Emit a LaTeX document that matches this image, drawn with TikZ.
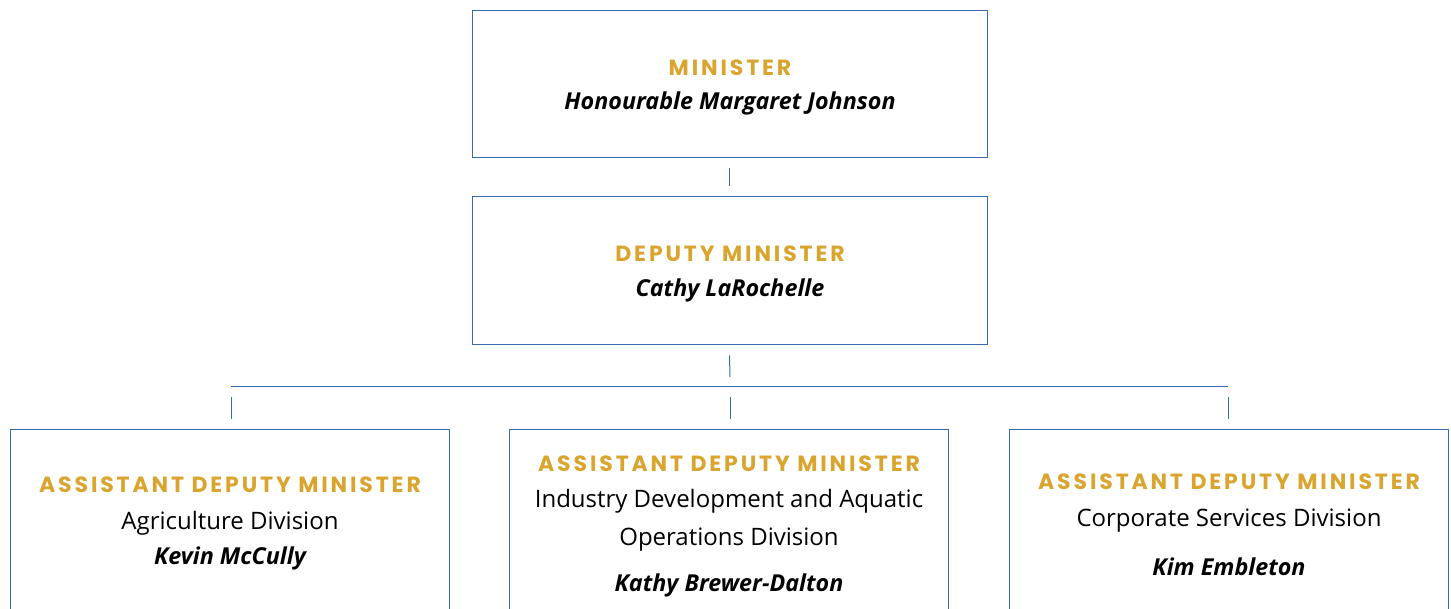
\documentclass[tikz,border=0pt]{standalone}
\usepackage{fontspec}
\setmainfont{Open Sans}
\newfontfamily\headfont[LetterSpace=13]{Poppins}
\usetikzlibrary{positioning}
\definecolor{boxblue}{HTML}{3B69AE}
\definecolor{titlegold}{HTML}{D9A52F}

\begin{document}
\begin{tikzpicture}[x=1pt, y=-1pt]
        \tikzset{box/.style={draw=boxblue, line width=1pt, minimum width=515pt, minimum height=147pt, inner sep=0pt}}
        \tikzset{smallbox/.style={box, minimum width=439pt, minimum height=200pt}}
        \tikzset{title/.style={font=\headfont\bfseries\fontsize{22}{24}\selectfont, text=titlegold, inner sep=0pt}}
        \tikzset{who/.style={font=\bfseries\itshape\fontsize{23.3}{28}\selectfont, inner sep=0pt}}
        \tikzset{unit/.style={font=\fontsize{24}{38}\selectfont, align=center, inner sep=0pt}}
        \useasboundingbox (0,0) rectangle (1451,609);
        \clip (0,0) rectangle (1451,609);
        % boxes
        \node[box] (minister) at (729.5, 84.5) {};
        \node[box, minimum height=148pt] (deputy) at (729.5, 271) {};
        \node[smallbox] (agr) at (229.5, 529) {};
        \node[smallbox] (ind) at (728.5, 529) {};
        \node[smallbox] (corp) at (1228.5, 529) {};
        % texts
        \node[title] (mintitle) at (730, 68) {MINISTER};
        \node[who] (minname) at (730, 103) {Honourable Margaret Johnson};
        \node[title] (deptitle) at (730, 254) {DEPUTY MINISTER};
        \node[who] (depname) at (730, 290) {Cathy LaRochelle};
        \node[title] (agrtitle) at (230, 485) {ASSISTANT DEPUTY MINISTER};
        \node[unit] (agrunit) at (230, 523) {Agriculture Division};
        \node[who] (agrname) at (230, 558) {Kevin McCully};
        \node[title] (indtitle) at (729, 464) {ASSISTANT DEPUTY MINISTER};
        \node[unit] (indunit) at (729, 520) {Industry Development and Aquatic\\Operations Division};
        \node[who] (indname) at (729, 585) {Kathy Brewer-Dalton};
        \node[title] (corptitle) at (1229, 482) {ASSISTANT DEPUTY MINISTER};
        \node[unit] (corpunit) at (1229, 521) {Corporate Services Division};
        \node[who] (corpname) at (1229, 567) {Kim Embleton};
        % connectors
        \tikzset{link/.style={draw=boxblue, line width=1pt}}
        \coordinate (bus) at (730, 387);
        \coordinate (busl) at (231, 387);
        \coordinate (busr) at (1228, 387);
        \path ([yshift=-10pt]minister.south) edge[link] ([yshift=10pt]deputy.north);
        \path ([yshift=-10pt]deputy.south) edge[link] ([yshift=10pt]bus);
        \path (busl) edge[link] (busr);
        \path ([yshift=-10pt]busl) edge[link] ([yshift=10pt]busl |- agr.north);
        \path ([yshift=-10pt]bus) edge[link] ([yshift=10pt]bus |- ind.north);
        \path ([yshift=-10pt]busr) edge[link] ([yshift=10pt]busr |- corp.north);
\end{tikzpicture}
\end{document}
